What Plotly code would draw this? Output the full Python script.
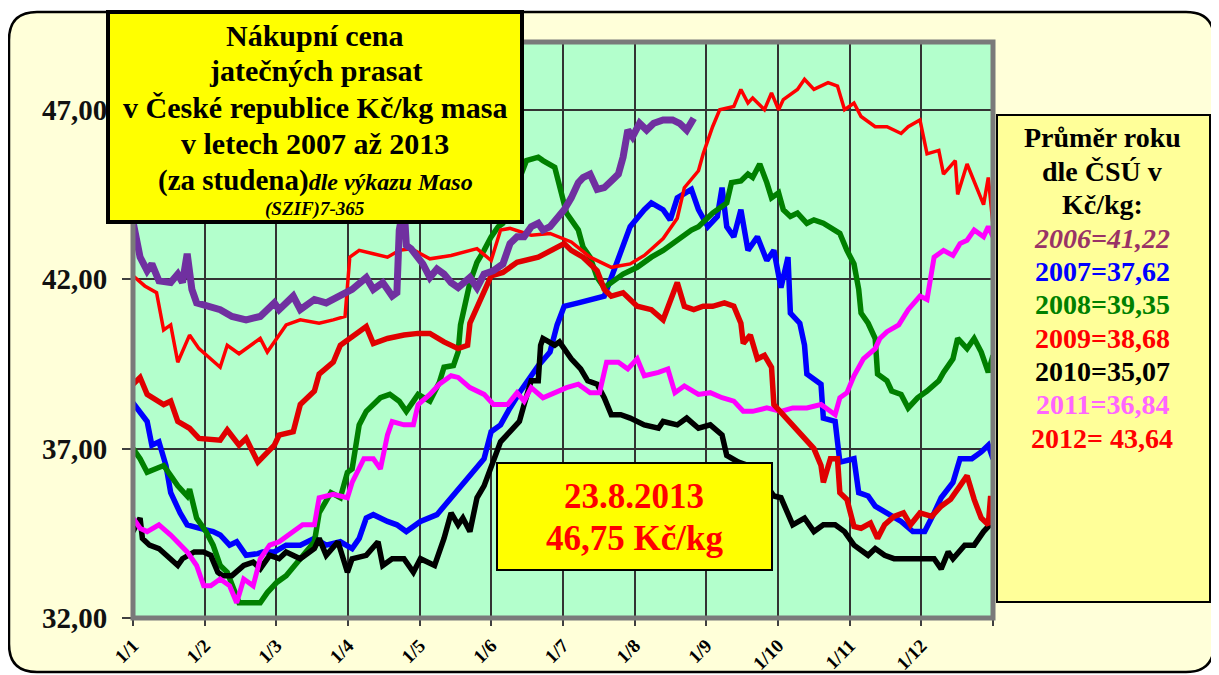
import plotly.graph_objects as go

# ---------------- data (day of year, price Kč/kg) ----------------
month_labels = ["1/1", "1/2", "1/3", "1/4", "1/5", "1/6", "1/7", "1/8", "1/9", "1/10", "1/11", "1/12", ""]
y_ticks = [32, 37, 42, 47]
y_tick_labels = ["32,00", "37,00", "42,00", "47,00"]

s2007 = [(0,38.35),(3,38.1),(6,37.8),(8,37.1),(11,37.2),(14,36.5),(16,35.7),(20,35.1),(23,34.75),(28,34.65),(34,34.55),(37,34.45),(41,34.15),(44,34.25),(48,33.85),(53,33.9),(55,33.95),(60,33.95),(65,34.15),(71,34.15),(77,34.35),(82,34.15),(88,34.25),(93,34.05),(96,34.35),(99,34.95),(102,35.05),(108,34.85),(112,34.75),(116,34.55),(122,34.85),(129,35.05),(135,35.55),(140,36.0),(145,36.4),(149,36.7),(152,37.5),(156,37.7),(160,38.2),(164,38.65),(172,39.45),(177,39.85),(180,40.65),(183,41.2),(189,41.3),(194,41.4),(200,41.5),(203,42.05),(207,42.85),(211,43.55),(217,44.05),(220,44.25),(225,44.05),(228,43.75),(231,44.4),(237,44.65),(240,44.05),(244,43.55),(248,43.85),(250,44.7),(252,43.55),(255,43.25),(258,44.05),(261,42.85),(265,43.25),(269,42.55),(272,42.85),(275,41.75),(278,42.65),(279,41.0),(283,40.7),(285,40.05),(286,39.2),(292,38.9),(293,37.9),(298,37.8),(300,36.6),(306,36.7),(308,35.7),(312,35.6),(315,35.3),(320,35.1),(326,34.85),(331,34.55),(336,34.55),(340,35.1),(343,35.55),(348,36.0),(351,36.7),(356,36.7),(360,36.9),(363,37.1),(365,36.7)]

s2008 = [(0,37.0),(3,36.7),(6,36.3),(10,36.4),(13,36.5),(16,36.2),(19,35.9),(23,35.6),(24,35.8),(27,34.95),(31,34.55),(34,34.15),(37,33.55),(40,33.35),(42,32.95),(45,32.45),(51,32.45),(54,32.45),(57,32.75),(61,33.05),(65,33.25),(71,33.75),(77,34.25),(79,35.1),(84,35.7),(88,35.55),(91,36.3),(93,36.4),(96,37.7),(99,38.1),(105,38.5),(109,38.6),(113,38.4),(116,38.1),(119,38.4),(121,38.6),(126,38.4),(130,38.95),(132,39.4),(136,39.45),(138,39.85),(139,40.65),(143,41.9),(146,42.5),(149,42.85),(152,43.25),(155,43.55),(157,43.65),(160,44.25),(164,45.0),(167,45.5),(172,45.6),(174,45.5),(179,45.3),(181,44.7),(184,43.95),(189,43.45),(191,42.95),(194,42.65),(197,42.05),(200,41.75),(204,41.95),(208,42.15),(214,42.35),(220,42.65),(225,42.85),(231,43.15),(237,43.45),(240,43.55),(246,43.95),(252,44.25),(254,44.85),(258,44.9),(261,45.1),(263,45.0),(266,45.4),(269,44.85),(271,44.4),(274,44.55),(276,44.05),(279,43.85),(282,43.95),(286,43.65),(289,43.75),(293,43.65),(298,43.45),(300,43.35),(303,42.85),(306,42.45),(308,41.7),(309,41.0),(312,40.7),(315,40.25),(316,39.2),(320,39.0),(322,38.7),(326,38.6),(329,38.2),(333,38.5),(337,38.7),(342,39.0),(344,39.25),(348,39.65),(350,40.25),(354,39.95),(357,40.25),(360,39.85),(363,39.25),(365,39.75)]

s2009 = [(0,38.9),(3,39.1),(6,38.6),(13,38.3),(16,38.4),(19,37.8),(24,37.6),(28,37.3),(37,37.25),(40,37.55),(45,37.1),(48,37.3),(53,36.6),(55,36.75),(60,37.1),(62,37.4),(68,37.5),(71,38.3),(77,38.7),(79,39.2),(85,39.55),(88,40.05),(93,40.3),(99,40.6),(102,40.1),(108,40.25),(115,40.35),(121,40.4),(126,40.4),(132,40.15),(138,39.95),(142,40.05),(143,40.7),(146,41.2),(152,42.1),(157,42.2),(163,42.5),(172,42.65),(177,42.85),(183,43.05),(186,42.85),(191,42.65),(197,42.25),(200,41.7),(203,41.5),(208,41.6),(214,41.2),(220,41.1),(225,40.8),(231,41.9),(234,41.2),(238,41.1),(242,41.2),(246,41.2),(251,41.3),(255,41.2),(258,40.7),(259,40.1),(262,40.35),(265,39.65),(268,39.75),(271,39.4),(272,38.3),(276,38.0),(280,37.7),(285,37.3),(289,37.0),(292,36.5),(293,36.0),(296,36.7),(299,36.7),(300,35.7),(303,35.5),(306,34.7),(309,34.65),(313,34.8),(316,34.35),(319,34.75),(323,35.0),(327,35.1),(330,34.75),(334,35.1),(339,35.0),(343,35.3),(347,35.5),(351,35.9),(354,36.2),(357,35.5),(360,34.95),(363,34.75),(364,35.6),(365,35.0)]

s2010 = [(0,34.55),(3,34.95),(4,34.35),(7,34.15),(11,34.05),(16,33.75),(19,33.55),(21,33.75),(26,33.95),(30,33.95),(33,33.85),(36,33.35),(38,33.25),(42,33.25),(47,33.55),(51,33.65),(54,33.45),(58,33.85),(62,33.75),(65,33.95),(71,33.75),(77,34.05),(79,34.35),(82,33.85),(87,34.25),(91,33.35),(93,33.75),(99,33.85),(104,34.25),(106,33.55),(110,33.75),(115,33.75),(119,33.35),(122,33.75),(128,33.55),(132,34.35),(135,35.1),(138,34.75),(140,34.95),(143,34.55),(146,35.55),(149,35.9),(152,36.5),(156,37.2),(160,37.5),(164,37.8),(166,38.3),(169,39.0),(172,39.0),(173,40.05),(174,40.25),(179,40.05),(181,40.15),(186,39.65),(190,39.35),(193,39.0),(197,38.9),(200,38.5),(203,38.0),(207,38.0),(211,37.9),(217,37.7),(223,37.6),(225,37.8),(231,37.7),(235,37.9),(240,37.6),(245,37.7),(250,37.4),(252,36.8),(257,36.6),(261,36.5),(266,36.2),(272,35.6),(275,35.55),(278,35.1),(280,34.75),(285,34.95),(289,34.55),(293,34.75),(298,34.75),(302,34.55),(306,34.15),(312,33.85),(315,34.05),(319,33.85),(323,33.75),(329,33.75),(334,33.75),(340,33.75),(343,33.45),(346,33.95),(348,33.75),(353,34.15),(357,34.15),(361,34.55),(365,34.85)]

s2011 = [(0,34.95),(3,34.65),(6,34.55),(11,34.75),(16,34.45),(20,34.15),(23,33.95),(27,33.55),(30,32.95),(33,32.95),(37,33.15),(41,32.95),(44,32.45),(47,33.15),(51,32.95),(54,33.75),(58,34.15),(62,34.25),(68,34.55),(72,34.75),(77,34.75),(79,35.55),(85,35.65),(91,35.55),(93,36.0),(98,36.7),(102,36.7),(105,36.4),(108,37.4),(110,37.8),(115,37.7),(119,37.7),(121,38.3),(126,38.6),(130,38.9),(135,39.15),(138,39.1),(143,38.8),(149,38.6),(153,38.3),(159,38.3),(163,38.65),(166,38.4),(169,38.8),(174,38.5),(179,38.65),(184,38.8),(189,38.9),(194,38.65),(198,38.65),(201,39.55),(206,39.55),(210,39.35),(214,39.65),(217,39.15),(223,39.25),(227,39.35),(230,38.65),(234,38.85),(240,38.6),(245,38.65),(250,38.5),(255,38.4),(259,38.1),(263,38.1),(269,38.2),(275,38.1),(280,38.2),(286,38.2),(292,38.3),(298,38.0),(300,38.5),(303,38.65),(306,39.15),(310,39.65),(315,39.95),(317,40.25),(320,40.45),(325,40.65),(329,41.1),(334,41.5),(337,41.4),(340,42.65),(344,42.85),(348,42.7),(351,43.05),(354,43.15),(357,43.45),(361,43.25),(363,43.55),(365,43.25)]

s2012 = [(0,42.1),(5,41.8),(10,41.6),(13,40.5),(16,40.65),(19,39.55),(24,40.35),(28,39.95),(37,39.4),(40,40.05),(45,39.8),(54,40.25),(57,39.85),(65,40.65),(71,40.8),(79,40.7),(85,40.8),(90,40.9),(92,42.65),(96,42.85),(102,42.75),(108,42.65),(113,42.85),(118,42.9),(126,42.6),(135,42.7),(146,42.9),(152,42.55),(156,43.45),(160,43.5),(169,43.3),(177,43.35),(186,43.1),(194,42.65),(203,42.35),(211,42.45),(217,42.7),(225,43.2),(231,43.8),(234,44.7),(240,45.2),(242,45.7),(246,46.5),(249,47.0),(255,47.1),(258,47.6),(261,47.2),(263,47.35),(268,47.0),(271,47.5),(274,47.0),(276,47.3),(282,47.6),(285,47.9),(289,47.6),(295,47.8),(299,47.7),(302,47.0),(306,47.2),(309,46.8),(315,46.5),(320,46.5),(326,46.3),(329,46.5),(334,46.7),(337,45.7),(342,45.8),(344,45.1),(349,45.5),(350,44.5),(354,45.4),(357,44.9),(361,44.2),(363,45.0),(365,43.6)]

s2013 = [(0,43.7),(3,42.65),(6,42.25),(8,42.45),(11,41.95),(16,41.9),(19,42.15),(21,41.9),(23,42.75),(25,41.7),(27,41.3),(31,41.2),(37,41.1),(42,40.9),(48,40.8),(54,40.9),(60,41.3),(62,41.1),(68,41.5),(71,41.1),(77,41.4),(82,41.3),(88,41.5),(93,41.7),(99,42.05),(102,41.7),(106,41.9),(110,41.5),(112,41.6),(113,43.45),(115,44.2),(116,43.0),(118,42.9),(121,42.6),(123,42.45),(126,42.05),(129,42.3),(132,42.15),(135,41.9),(138,41.75),(140,41.85),(143,42.05),(146,41.75),(149,42.15),(153,42.25),(157,42.45),(160,43.05),(163,43.25),(166,43.25),(169,43.55),(172,43.65),(174,43.45),(177,43.55),(180,43.8),(183,44.05),(186,44.4),(189,44.85),(191,45.0),(194,45.1),(197,44.65),(200,44.7),(203,44.9),(206,45.1),(208,45.6),(210,46.4),(212,46.2),(215,46.6),(218,46.4),(221,46.6),(225,46.7),(229,46.7),(232,46.6),(235,46.4),(238,46.75)]

legend_lines = ["Průměr roku", "dle ČSÚ v", "Kč/kg:"]
year_avgs = [("2006=41,22", "#993366", True), ("2007=37,62", "#0000FF", False),
             ("2008=39,35", "#008000", False), ("2009=38,68", "#FF0000", False),
             ("2010=35,07", "#000000", False), ("2011=36,84", "#FF66FF", False),
             ("2012= 43,64", "#FF0000", False)]

# ---------------- layout geometry (reference pixels) ----------------
W, H = 1219, 675
OFF = 8                      # default page body margin
L, R, T, B = 133, 993, 42, 618

def px(x):
    return (x - L) / (R - L)

def py(y):
    return (B - y) / (B - T)

FONT = "Liberation Serif"

fig = go.Figure()

series = [
    (s2007, "#0000FF", 5.5),
    (s2008, "#008000", 5.5),
    (s2010, "#000000", 5.5),
    (s2011, "#FF00FF", 5),
    (s2009, "#E00000", 5.5),
    (s2012, "#FF0000", 3.5),
    (s2013, "#7030A0", 7),
]
for s, col, w in series:
    xs, ys = zip(*s)
    fig.add_trace(go.Scatter(x=list(xs), y=list(ys), mode="lines",
                             line=dict(color=col, width=w), hoverinfo="skip"))

shapes = []
# outer rounded cream panel
x0, x1, yt, yb, r = 9, 1214, 12, 672, 28
rx, ry = r / (R - L), r / (B - T)
X0, X1, YT, YB = px(x0), px(x1), py(yt), py(yb)
path = (f"M {X0+rx},{YT} L {X1-rx},{YT} Q {X1},{YT} {X1},{YT-ry} "
        f"L {X1},{YB+ry} Q {X1},{YB} {X1-rx},{YB} L {X0+rx},{YB} "
        f"Q {X0},{YB} {X0},{YB+ry} L {X0},{YT-ry} Q {X0},{YT} {X0+rx},{YT} Z")
shapes.append(dict(type="path", path=path, xref="paper", yref="paper",
                   fillcolor="#FFFFD9", line=dict(color="black", width=2.5), layer="below"))
# plot area background
shapes.append(dict(type="rect", xref="paper", yref="paper", x0=0, x1=1, y0=0, y1=1,
                   fillcolor="#B3FFCC", line=dict(width=0), layer="below"))
# gray frame
shapes.append(dict(type="rect", xref="paper", yref="paper", x0=0, x1=1, y0=0, y1=1,
                   fillcolor="rgba(0,0,0,0)", line=dict(color="#7A7A7A", width=5), layer="above"))
# title box
shapes.append(dict(type="rect", xref="paper", yref="paper", x0=px(108), x1=px(522),
                   y0=py(222), y1=py(12), fillcolor="#FFFF00",
                   line=dict(color="black", width=4), layer="above"))
# date/price box
shapes.append(dict(type="rect", xref="paper", yref="paper", x0=px(497), x1=px(772),
                   y0=py(570), y1=py(463), fillcolor="#FFFF00",
                   line=dict(color="black", width=2), layer="above"))
# legend box
shapes.append(dict(type="rect", xref="paper", yref="paper", x0=px(997), x1=px(1210),
                   y0=py(602), y1=py(115), fillcolor="#FFFF99",
                   line=dict(color="black", width=2), layer="above"))

ann = []

def txt(s, x, y, size, color="black"):
    ann.append(dict(text=s, x=px(x), y=py(y), xref="paper", yref="paper",
                    showarrow=False, xanchor="center", yanchor="middle",
                    font=dict(family=FONT, size=size, color=color)))

title_lines = ["Nákupní cena", "jatečných prasat", "v České republice Kč/kg masa",
               "v letech 2007 až 2013"]
for i, line in enumerate(title_lines):
    txt(f"<b>{line}</b>", 315, 35 + i * 36, 30)
txt("<b>(za studena)</b><b><i><span style='font-size:24px'>dle výkazu Maso</span></i></b>", 315, 180, 29)
txt("<b><i>(SZIF)7-365</i></b>", 315, 209, 19)

txt("<b>23.8.2013</b>", 634, 496, 35, "#FF0000")
txt("<b>46,75 Kč/kg</b>", 634, 538, 35, "#FF0000")

for i, line in enumerate(legend_lines):
    txt(f"<b>{line}</b>", 1102, 138 + i * 33.4, 28)
for j, (line, col, it) in enumerate(year_avgs):
    s = f"<b><i>{line}</i></b>" if it else f"<b>{line}</b>"
    txt(s, 1102, 238 + j * 33.4, 28, col)

fig.update_layout(
    width=W - OFF, height=H - OFF, autosize=False,
    margin=dict(l=L - OFF, r=W - R, t=T - OFF, b=H - B, pad=0, autoexpand=False),
    paper_bgcolor="white", plot_bgcolor="rgba(0,0,0,0)",
    showlegend=False, shapes=shapes, annotations=ann,
    xaxis=dict(range=[0, 365], tickmode="array", automargin=False,
               tickvals=[k * 365 / 12 for k in range(13)], ticktext=month_labels,
               tickangle=-45, ticks="outside", ticklen=7, tickwidth=2, tickcolor="#404040",
               ticklabelstandoff=1,
               tickfont=dict(family=FONT, size=19, color="black", weight="bold"),
               showgrid=True, gridcolor="#333333", gridwidth=1.5,
               zeroline=False, showline=False, fixedrange=True),
    yaxis=dict(range=[32, 49], tickmode="array", tickvals=y_ticks, ticktext=y_tick_labels,
               automargin=False,
               ticks="outside", ticklen=10, tickwidth=2, tickcolor="#404040",
               ticklabelstandoff=9,
               tickfont=dict(family=FONT, size=29, color="#111111", weight="bold"),
               showgrid=True, gridcolor="#333333", gridwidth=1.5,
               zeroline=False, showline=False, fixedrange=True),
)

fig.write_html("out.html")
